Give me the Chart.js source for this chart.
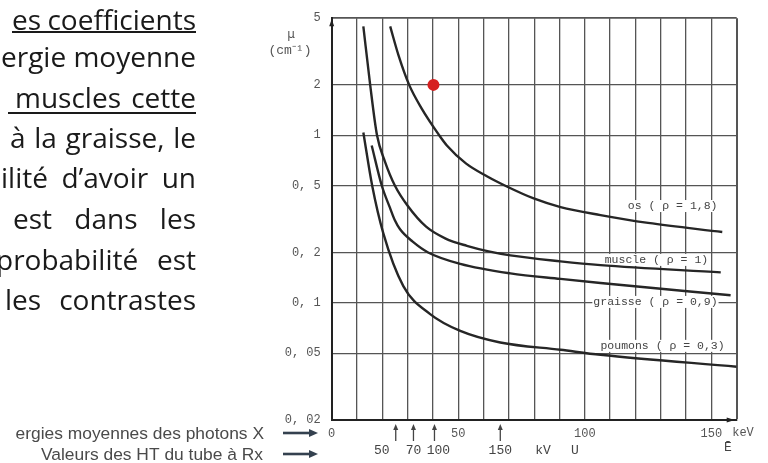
<!DOCTYPE html>
<html><head><meta charset="utf-8">
<script src="https://cdn.jsdelivr.net/npm/chart.js@4.4.0/dist/chart.umd.min.js"></script>
<style>
html,body{margin:0;padding:0;background:#fff;width:768px;height:463px;overflow:hidden;}
canvas{position:absolute;left:0;top:0;}
.ln{position:absolute;right:572px;display:flex;justify-content:space-between;font-family:'Open Sans',sans-serif;font-size:28px;line-height:28px;height:28px;color:#1a1a1a;white-space:nowrap;}
.ul{position:absolute;height:2px;background:#1a1a1a;}
</style></head>
<body>
<canvas id="c" width="768" height="463"></canvas>
<div class="ln" style="left:12px;top:5px"><span>es</span><span>coefficients</span></div>
<div class="ul" style="left:12px;width:184px;top:31px"></div>
<div class="ln" style="left:1px;top:42px"><span>ergie</span><span>moyenne</span></div>
<div class="ln" style="left:15px;top:83px"><span>muscles</span><span>cette</span></div>
<div class="ul" style="left:8px;width:188px;top:112px"></div>
<div class="ln" style="left:10px;top:123px"><span>à</span><span>la</span><span>graisse,</span><span>le</span></div>
<div class="ln" style="left:1px;top:163px"><span>ilité</span><span>d’avoir</span><span>un</span></div>
<div class="ln" style="left:13px;top:204px"><span>est</span><span>dans</span><span>les</span></div>
<div class="ln" style="left:-4px;top:245px"><span>probabilité</span><span>est</span></div>
<div class="ln" style="left:5px;top:285px"><span>les</span><span>contrastes</span></div>
<script>
// ---- data ----
const yTicks = [0.02, 0.05, 0.1, 0.2, 0.5, 1, 2, 5];
const xTickLabels = [0, 50, 100, 150];
const osE  = [23.1, 26.4, 30.6, 35.5, 42.5, 45.5, 53, 61.3, 69.2, 79.8, 90.4, 106.2, 125, 154.3];
const osMu = [4.47, 3.0, 2, 1.45, 1, 0.87, 0.68, 0.57, 0.495, 0.42, 0.373, 0.334, 0.3, 0.265];
const muscleE  = [12.5, 15.2, 17.9, 21, 25, 30, 37.3, 45, 53.4, 62, 70.6, 90.4, 106.2, 153.7];
const muscleMu = [4.47, 2, 1, 0.7, 0.5, 0.38, 0.285, 0.242, 0.219, 0.203, 0.192, 0.177, 0.168, 0.152];
const graisseE  = [15.8, 19.8, 23, 25, 27, 32, 38.1, 50.8, 70.6, 90.4, 106.2, 157.6];
const graisseMu = [0.87, 0.5, 0.37, 0.31, 0.275, 0.232, 0.2, 0.171, 0.15, 0.139, 0.1315, 0.111];
const poumonsE  = [12.5, 16, 20.4, 28.3, 38.9, 50.8, 66.6, 90.4, 106.2, 160];
const poumonsMu = [1.04, 0.5, 0.26, 0.126, 0.0857, 0.068, 0.058, 0.0525, 0.049, 0.0416];
const curveNames = ['os ( ρ = 1,8)', 'muscle ( ρ = 1)', 'graisse ( ρ = 0,9)', 'poumons ( ρ = 0,3)'];
const dotE = [40.2];
const dotMu = [2];
const kvLabels = ['50', '70', '100', '150'];
const kvEnergies = [25.3, 32.3, 40.6, 66.6];

const pts = (xs, ys) => xs.map((v, i) => ({x: v, y: ys[i]}));
const fmt = v => String(v).replace('.', ', ');

const lineStyle = {borderColor: '#262626', borderWidth: 2.4, pointRadius: 0, cubicInterpolationMode: 'monotone', fill: false};

const extras = {
  id: 'extras',
  beforeDatasetsDraw(chart, args, opts) {
    const {ctx, scales: {x, y}} = chart;
    ctx.save();
    ctx.font = '11.5px "Liberation Mono"';
    ctx.textAlign = 'center';
    ctx.textBaseline = 'middle';
    opts.labelPos.forEach((p, i) => {
      const px = x.getPixelForValue(p[0]), py = y.getPixelForValue(p[1]);
      const w = ctx.measureText(curveNames[i]).width;
      ctx.fillStyle = '#fff';
      ctx.fillRect(px - w / 2 - 1, py - 6, w + 2, 12);
      ctx.fillStyle = '#444';
      ctx.fillText(curveNames[i], px, py);
    });
    ctx.restore();
  },
  afterDraw(chart) {
    const {ctx, chartArea: a, scales: {x, y}} = chart;
    ctx.save();
    // axis arrowheads
    ctx.fillStyle = '#222';
    ctx.beginPath(); ctx.moveTo(a.left, a.top + 1); ctx.lineTo(a.left - 2.5, a.top + 8); ctx.lineTo(a.left + 2.5, a.top + 8); ctx.fill();
    ctx.beginPath(); ctx.moveTo(a.right - 2, a.bottom); ctx.lineTo(a.right - 10, a.bottom - 2.5); ctx.lineTo(a.right - 10, a.bottom + 2.5); ctx.fill();
    // y title
    ctx.fillStyle = '#555';
    ctx.textAlign = 'center'; ctx.textBaseline = 'middle';
    ctx.font = '12px "DejaVu Sans"';
    ctx.fillText('μ', 291, 35);
    ctx.font = '13px "Liberation Mono"';
    ctx.fillText('(cm⁻¹)', 290, 51);
    // keV unit
    ctx.font = '12px "Liberation Mono"';
    ctx.fillText('keV', 743, 433);
    // tube voltage markers
    ctx.strokeStyle = '#444'; ctx.fillStyle = '#444'; ctx.lineWidth = 1.3;
    ctx.font = '13px "Liberation Mono"';
    kvEnergies.forEach((e, i) => {
      const px = x.getPixelForValue(e);
      ctx.beginPath(); ctx.moveTo(px, 441); ctx.lineTo(px, 428); ctx.stroke();
      ctx.beginPath(); ctx.moveTo(px, 424); ctx.lineTo(px - 2.5, 430); ctx.lineTo(px + 2.5, 430); ctx.fill();
      ctx.fillText(kvLabels[i], px - (i === 0 ? 14 : 0) + (i === 2 ? 4 : 0), 451);
    });
    ctx.fillText('kV', 543, 451);
    ctx.fillText('U', 575, 451);
    ctx.fillText('Ē', 728, 448);
    // left captions
    ctx.font = '17.4px "Liberation Sans"';
    ctx.fillStyle = '#4a4a4a';
    ctx.textAlign = 'right'; ctx.textBaseline = 'alphabetic';
    ctx.fillText('ergies moyennes des photons X', 264, 439);
    ctx.fillText('Valeurs des HT du tube à Rx', 263, 460);
    // caption arrows
    ctx.strokeStyle = '#34414f'; ctx.fillStyle = '#34414f'; ctx.lineWidth = 2.6;
    [433, 454].forEach(yy => {
      ctx.beginPath(); ctx.moveTo(283, yy); ctx.lineTo(311, yy); ctx.stroke();
      ctx.beginPath(); ctx.moveTo(318, yy); ctx.lineTo(309, yy - 4); ctx.lineTo(309, yy + 4); ctx.fill();
    });
    ctx.restore();
  }
};

new Chart(document.getElementById('c'), {
  type: 'line',
  data: {
    datasets: [
      Object.assign({label: curveNames[0], data: pts(osE, osMu)}, lineStyle),
      Object.assign({label: curveNames[1], data: pts(muscleE, muscleMu)}, lineStyle),
      Object.assign({label: curveNames[2], data: pts(graisseE, graisseMu)}, lineStyle),
      Object.assign({label: curveNames[3], data: pts(poumonsE, poumonsMu)}, lineStyle),
      {type: 'scatter', label: 'point', data: pts(dotE, dotMu), pointRadius: 6, backgroundColor: '#d61f1f', borderWidth: 0, showLine: false}
    ]
  },
  options: {
    responsive: false,
    animation: false,
    layout: {padding: {top: 15, right: 31.3, bottom: 0, left: 0}},
    plugins: {
      legend: {display: false},
      tooltip: {enabled: false},
      extras: {labelPos: [[134.7, 0.3785], [128.3, 0.1805], [127.9, 0.1013], [130.7, 0.0554]]}
    },
    scales: {
      x: {
        type: 'linear', min: 0, max: 160,
        afterFit(s) { s.height = 43; },
        ticks: {stepSize: 10, autoSkip: false, maxRotation: 0, padding: 7, color: '#555',
          font: {family: 'Liberation Mono', size: 12},
          callback: v => xTickLabels.includes(v) ? String(v) : ''},
        grid: {color: '#555', lineWidth: c => (c.tick && c.tick.value === 160) ? 2 : 1.3, drawTicks: false},
        border: {color: '#222', width: 2}
      },
      y: {
        type: 'logarithmic', min: 0.02, max: 5,
        afterFit(s) { s.width = 331.7; },
        afterBuildTicks(s) { s.ticks = yTicks.map(v => ({value: v})); },
        ticks: {padding: 11, color: '#555', font: {family: 'Liberation Mono', size: 12}, callback: v => fmt(v)},
        grid: {color: '#555', lineWidth: c => (c.tick && c.tick.value === 5) ? 1.8 : 1.3, drawTicks: false},
        border: {color: '#222', width: 2}
      }
    }
  },
  plugins: [extras]
});
</script>
</body></html>
